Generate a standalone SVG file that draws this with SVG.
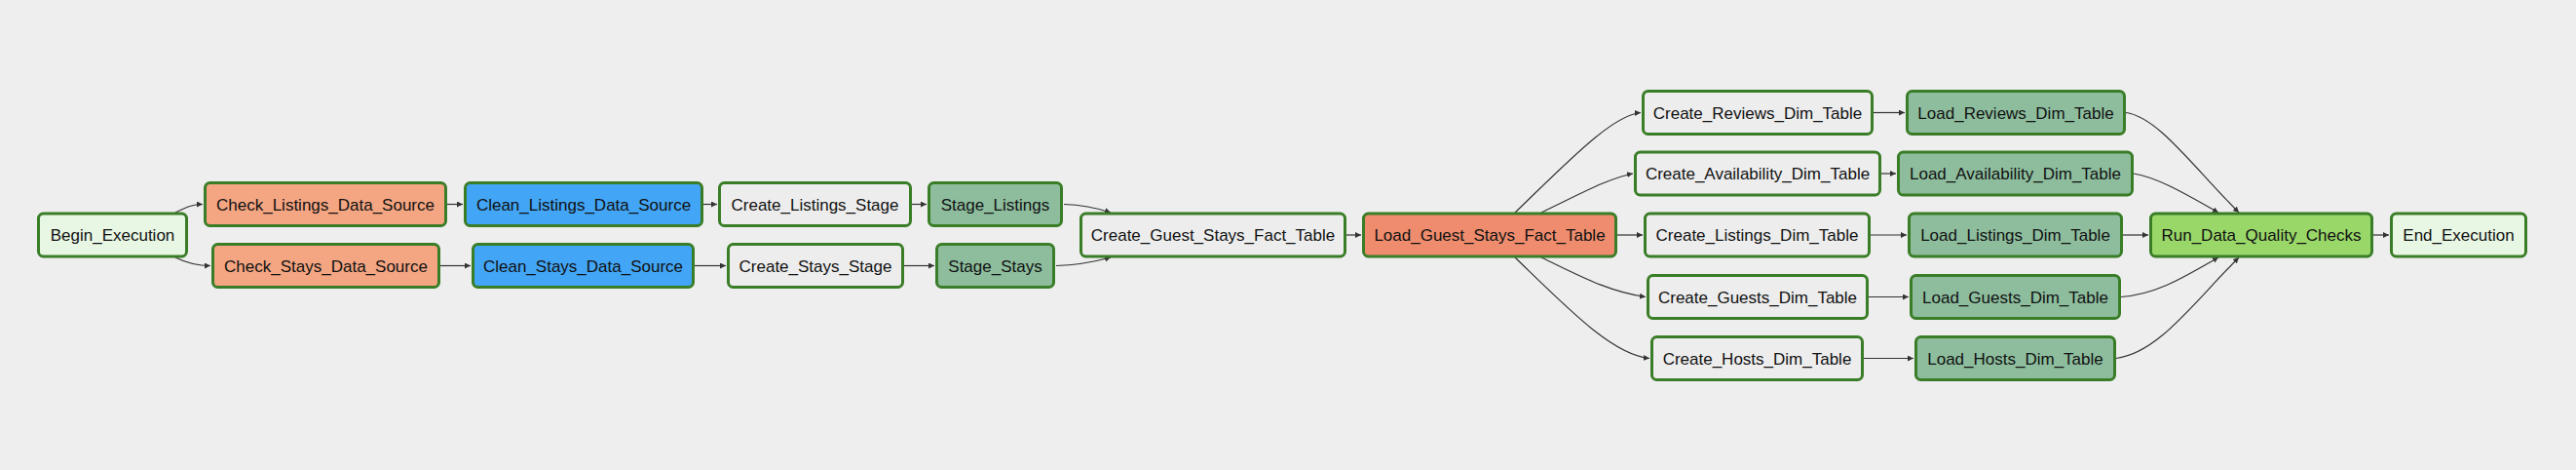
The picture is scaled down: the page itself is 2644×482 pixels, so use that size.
<svg xmlns="http://www.w3.org/2000/svg" width="2644" height="482" viewBox="0 0 2644 482">
<style>
.n rect{stroke:#3a7d27;stroke-width:3}
.n text{font-family:"Liberation Sans",Arial,sans-serif;font-size:17px;fill:#111;text-anchor:middle}
.dummy{fill:#e8f7e4}
.check{fill:#f4a582}
.clean{fill:#42a5f5}
.pg{fill:#ededed}
.stage{fill:#8dbd9d}
.fact{fill:#ee8c6d}
.dq{fill:#99d769}
#edges path{fill:none;stroke:#333;stroke-width:1.2;marker-end:url(#arr)}
</style>
<defs>
<marker id="arr" markerUnits="userSpaceOnUse" markerWidth="7" markerHeight="7" refX="6" refY="3" orient="auto">
<path d="M0,0 L6,3 L0,6 z" fill="#333"/>
</marker>
</defs>
<rect width="2644" height="482" fill="#eeeeee"/>
<g id="edges">
<path d="M180,218 C192,212 198,209.5 208,209.5"/>
<path d="M180,264 C192,270 202,272.5 216,272.5"/>
<path d="M459,209.5 L475,209.5"/>
<path d="M452,272.5 L483,272.5"/>
<path d="M722,209.5 L736,209.5"/>
<path d="M713,272.5 L745,272.5"/>
<path d="M936,209.5 L951,209.5"/>
<path d="M928,272.5 L959,272.5"/>
<path d="M1092,209.5 C1110,210 1125,213 1140,218"/>
<path d="M1084,272.5 C1105,272 1125,268 1140,264"/>
<path d="M1382,241 L1397,241"/>
<path d="M1555,218 C1610,165 1655,118 1684,115.5"/>
<path d="M1582,218 C1620,200 1650,183 1676,178"/>
<path d="M1660,241 L1686,241"/>
<path d="M1582,264 C1620,282 1650,299 1689,304.5"/>
<path d="M1555,264 C1610,317 1655,364 1693,367.5"/>
<path d="M1923,115.5 L1955,115.5"/>
<path d="M1931,178 L1946,178"/>
<path d="M1920,241 L1957,241"/>
<path d="M1918,304.5 L1959,304.5"/>
<path d="M1913,367.5 L1964,367.5"/>
<path d="M2182,115.5 C2215,120 2250,170 2298,218"/>
<path d="M2190,178 C2215,182 2245,200 2277,218"/>
<path d="M2179,241 L2205,241"/>
<path d="M2177,304.5 C2215,302 2245,282 2277,264"/>
<path d="M2172,367.5 C2215,362 2250,312 2298,264"/>
<path d="M2436,241 L2452,241"/>
</g>
<g id="Begin_Execution" class="n"><rect class="dummy" x="39.5" y="219" width="152" height="44" rx="5"/><text x="115.5" y="247">Begin_Execution</text></g>
<g id="Check_Listings_Data_Source" class="n"><rect class="check" x="210.5" y="187.5" width="247" height="44" rx="5"/><text x="334" y="215.5">Check_Listings_Data_Source</text></g>
<g id="Check_Stays_Data_Source" class="n"><rect class="check" x="218.5" y="250.5" width="232" height="44" rx="5"/><text x="334.5" y="278.5">Check_Stays_Data_Source</text></g>
<g id="Clean_Listings_Data_Source" class="n"><rect class="clean" x="477.5" y="187.5" width="243" height="44" rx="5"/><text x="599" y="215.5">Clean_Listings_Data_Source</text></g>
<g id="Clean_Stays_Data_Source" class="n"><rect class="clean" x="485.5" y="250.5" width="226" height="44" rx="5"/><text x="598.5" y="278.5">Clean_Stays_Data_Source</text></g>
<g id="Create_Listings_Stage" class="n"><rect class="pg" x="738.5" y="187.5" width="196" height="44" rx="5"/><text x="836.5" y="215.5">Create_Listings_Stage</text></g>
<g id="Create_Stays_Stage" class="n"><rect class="pg" x="747.5" y="250.5" width="179" height="44" rx="5"/><text x="837" y="278.5">Create_Stays_Stage</text></g>
<g id="Stage_Listings" class="n"><rect class="stage" x="953.5" y="187.5" width="136" height="44" rx="5"/><text x="1021.5" y="215.5">Stage_Listings</text></g>
<g id="Stage_Stays" class="n"><rect class="stage" x="961.5" y="250.5" width="120" height="44" rx="5"/><text x="1021.5" y="278.5">Stage_Stays</text></g>
<g id="Create_Guest_Stays_Fact_Table" class="n"><rect class="pg" x="1109.5" y="219" width="271" height="44" rx="5"/><text x="1245" y="247">Create_Guest_Stays_Fact_Table</text></g>
<g id="Load_Guest_Stays_Fact_Table" class="n"><rect class="fact" x="1399.5" y="219" width="259" height="44" rx="5"/><text x="1529" y="247">Load_Guest_Stays_Fact_Table</text></g>
<g id="Create_Reviews_Dim_Table" class="n"><rect class="pg" x="1686.5" y="93.5" width="235" height="44" rx="5"/><text x="1804" y="121.5">Create_Reviews_Dim_Table</text></g>
<g id="Create_Availability_Dim_Table" class="n"><rect class="pg" x="1678.5" y="156" width="251" height="44" rx="5"/><text x="1804" y="184">Create_Availability_Dim_Table</text></g>
<g id="Create_Listings_Dim_Table" class="n"><rect class="pg" x="1688.5" y="219" width="230" height="44" rx="5"/><text x="1803.5" y="247">Create_Listings_Dim_Table</text></g>
<g id="Create_Guests_Dim_Table" class="n"><rect class="pg" x="1691.5" y="282.5" width="225" height="44" rx="5"/><text x="1804" y="310.5">Create_Guests_Dim_Table</text></g>
<g id="Create_Hosts_Dim_Table" class="n"><rect class="pg" x="1695.5" y="345.5" width="216" height="44" rx="5"/><text x="1803.5" y="373.5">Create_Hosts_Dim_Table</text></g>
<g id="Load_Reviews_Dim_Table" class="n"><rect class="stage" x="1957.5" y="93.5" width="223" height="44" rx="5"/><text x="2069" y="121.5">Load_Reviews_Dim_Table</text></g>
<g id="Load_Availability_Dim_Table" class="n"><rect class="stage" x="1948.5" y="156" width="240" height="44" rx="5"/><text x="2068.5" y="184">Load_Availability_Dim_Table</text></g>
<g id="Load_Listings_Dim_Table" class="n"><rect class="stage" x="1959.5" y="219" width="218" height="44" rx="5"/><text x="2068.5" y="247">Load_Listings_Dim_Table</text></g>
<g id="Load_Guests_Dim_Table" class="n"><rect class="stage" x="1961.5" y="282.5" width="214" height="44" rx="5"/><text x="2068.5" y="310.5">Load_Guests_Dim_Table</text></g>
<g id="Load_Hosts_Dim_Table" class="n"><rect class="stage" x="1966.5" y="345.5" width="204" height="44" rx="5"/><text x="2068.5" y="373.5">Load_Hosts_Dim_Table</text></g>
<g id="Run_Data_Quality_Checks" class="n"><rect class="dq" x="2207.5" y="219" width="227" height="44" rx="5"/><text x="2321" y="247">Run_Data_Quality_Checks</text></g>
<g id="End_Execution" class="n"><rect class="dummy" x="2454.5" y="219" width="138" height="44" rx="5"/><text x="2523.5" y="247">End_Execution</text></g>
</svg>
